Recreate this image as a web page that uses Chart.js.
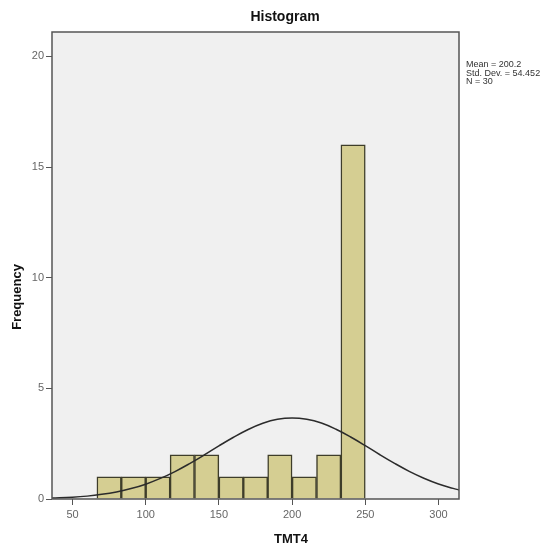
<!DOCTYPE html>
<html>
<head>
<meta charset="utf-8">
<script src="https://cdn.jsdelivr.net/npm/chart.js@4"></script>
<style>
  html, body { margin: 0; padding: 0; background: #fff; }
  #wrap { width: 557px; height: 556px; }
</style>
</head>
<body>
<div id="wrap"><canvas id="hist"></canvas></div>
<script>
// bin edges and counts (TMT4, N = 30)
const binEdges = [66.7, 83.3, 100, 116.7, 133.3, 150, 166.7, 183.3, 200, 216.7, 233.3, 250];
const counts = [1, 1, 1, 2, 2, 1, 1, 2, 1, 2, 16];
const xTicks = [50, 100, 150, 200, 250, 300];
const yTicks = [0, 5, 10, 15, 20];
// normal curve
const curveX = [36, 50, 60, 70, 80, 90, 100, 110, 120, 130, 140, 150, 160, 170, 180, 190, 200,
  210, 220, 230, 240, 250, 260, 270, 280, 290, 300, 310, 314];
const curveY = [0.04, 0.08, 0.13, 0.21, 0.32, 0.47, 0.67, 0.93, 1.24, 1.6, 1.99, 2.4, 2.79, 3.14,
  3.42, 3.6, 3.66, 3.6, 3.43, 3.15, 2.8, 2.41, 2.0, 1.61, 1.25, 0.94, 0.68, 0.48, 0.41];
const stats = ['Mean = 200.2', 'Std. Dev. = 54.452', 'N = 30'];

const barData = counts.map((c, i) => ({ x: (binEdges[i] + binEdges[i + 1]) / 2, y: c }));
const lineData = curveX.map((x, i) => ({ x: x, y: curveY[i] }));

const font = 'Liberation Sans, Arial, sans-serif';

const frame = {
  id: 'frame',
  beforeDatasetsDraw(chart) {
    const { ctx, chartArea: a } = chart;
    ctx.save();
    ctx.fillStyle = '#f0f0f0';
    ctx.fillRect(a.left, a.top, a.right - a.left, a.bottom - a.top);
    ctx.restore();
  },
  afterDraw(chart) {
    const { ctx, chartArea: a } = chart;
    ctx.save();
    ctx.strokeStyle = '#555';
    ctx.lineWidth = 1.5;
    ctx.strokeRect(a.left, a.top, a.right - a.left, a.bottom - a.top);

    ctx.fillStyle = '#111';
    ctx.textAlign = 'center';
    ctx.textBaseline = 'middle';
    ctx.font = 'bold 14px ' + font;
    ctx.fillText('Histogram', 285, 17);
    ctx.font = 'bold 13px ' + font;
    ctx.fillText('TMT4', 291, 539);
    ctx.save();
    ctx.translate(17, 297);
    ctx.rotate(-Math.PI / 2);
    ctx.fillText('Frequency', 0, 0);
    ctx.restore();

    ctx.font = '9px ' + font;
    ctx.fillStyle = '#333';
    ctx.textAlign = 'left';
    stats.forEach((s, i) => ctx.fillText(s, 466, 65 + i * 8.5));
    ctx.restore();
  }
};

new Chart(document.getElementById('hist'), {
  data: {
    datasets: [
      {
        type: 'line',
        data: lineData,
        borderColor: '#2b2b2b',
        borderWidth: 1.5,
        pointRadius: 0,
        tension: 0.4,
        fill: false,
        order: 0
      },
      {
        type: 'bar',
        data: barData,
        backgroundColor: '#d5ce92',
        borderColor: '#3e3d2a',
        borderWidth: 1.5,
        barPercentage: 1,
        categoryPercentage: 1,
        order: 1
      }
    ]
  },
  options: {
    responsive: true,
    maintainAspectRatio: false,
    animation: false,
    layout: { padding: { left: 0, right: 98, top: 32, bottom: 0 } },
    plugins: { legend: { display: false }, tooltip: { enabled: false } },
    scales: {
      x: {
        type: 'linear',
        min: 36,
        max: 314,
        offset: false,
        afterBuildTicks: (s) => { s.ticks = xTicks.map(v => ({ value: v })); },
        afterFit: (s) => { s.height = 57; },
        grid: { drawOnChartArea: false, tickLength: 6, color: '#555', offset: false },
        border: { display: false },
        ticks: { color: '#666', font: { family: font, size: 11 }, padding: 3, maxRotation: 0 }
      },
      y: {
        min: 0,
        max: 21.1,
        afterBuildTicks: (s) => { s.ticks = yTicks.map(v => ({ value: v })); },
        afterFit: (s) => { s.width = 52; },
        grid: { drawOnChartArea: false, tickLength: 6, color: '#555' },
        border: { display: false },
        ticks: { color: '#666', font: { family: font, size: 11 }, padding: 2 }
      }
    }
  },
  plugins: [frame]
});
</script>
</body>
</html>
